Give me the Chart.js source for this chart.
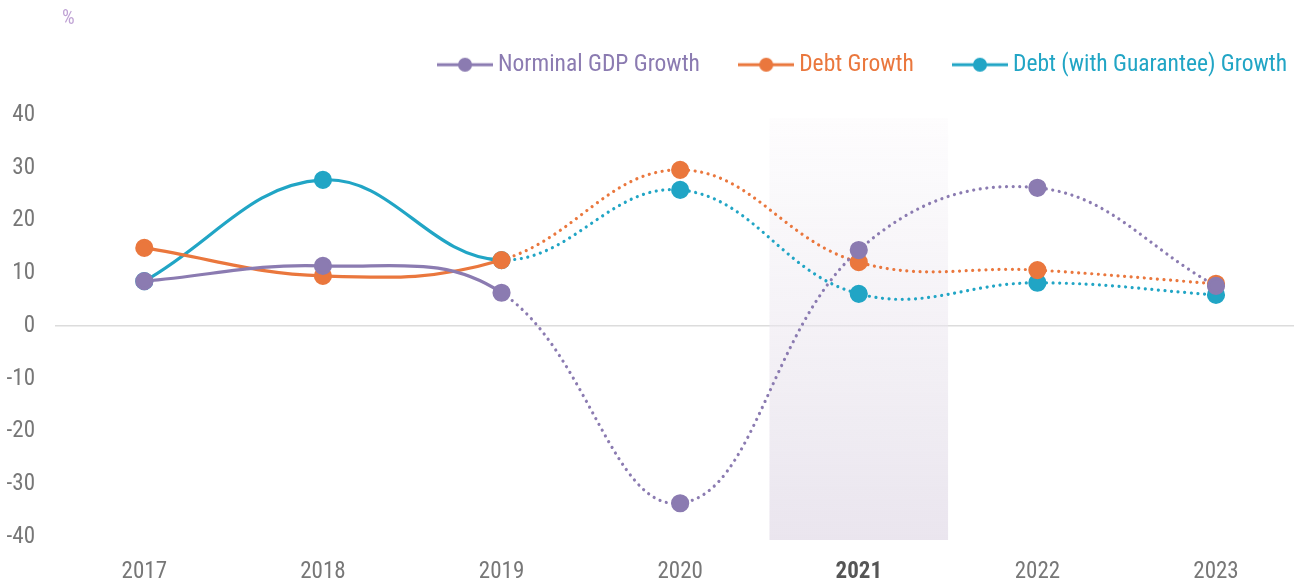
<!DOCTYPE html>
<html>
<head>
<meta charset="utf-8">
<script src="https://cdn.jsdelivr.net/npm/chart.js@4/dist/chart.umd.min.js"></script>
<style>
  html, body { margin: 0; padding: 0; background: #fff; }
  #wrap { position: relative; width: 1294px; height: 583px; overflow: hidden; }
  #chart { display: block; }
  #unit {
    position: absolute; left: 62px; top: 5px;
    font: 20px "Roboto Condensed", "Liberation Sans Narrow", Roboto, sans-serif;
    color: #bfa2d4;
  }
</style>
</head>
<body>
<div id="wrap">
  <div id="unit">%</div>
  <!-- plot runs off the right edge in the original, so the canvas is a bit wider than the view -->
  <canvas id="chart" width="1316" height="583"></canvas>
</div>
<script>
  // ---- Data ----
  const years = ["2017", "2018", "2019", "2020", "2021", "2022", "2023"];
  const gdpGrowth = [8.5, 11.4, 6.3, -33.6, 14.4, 26.2, 7.6];
  const debtGrowth = [14.8, 9.5, 12.5, 29.6, 12.1, 10.6, 8.0];
  const debtGuaranteeGrowth = [8.5, 27.7, 12.5, 25.8, 6.1, 8.2, 5.9];
  const yTicks = [-40, -30, -20, -10, 0, 10, 20, 30, 40];

  const FONT = '"Roboto Condensed", "Liberation Sans Narrow", "DejaVu Sans Condensed", Roboto, sans-serif';
  const HIGHLIGHT = 4; // index of 2021
  const LAST_ACTUAL = 2; // lines become dotted after 2019

  const colors = {
    gdp: "#8b7bb1",
    debt: "#ea773d",
    guar: "#21a5c5",
  };

  // legend icon: short line with a dot in the middle
  function legendIcon(color) {
    const c = document.createElement("canvas");
    c.width = 56; c.height = 16;
    const g = c.getContext("2d");
    g.strokeStyle = color;
    g.lineWidth = 3;
    g.beginPath(); g.moveTo(0, 8); g.lineTo(56, 8); g.stroke();
    g.fillStyle = color;
    g.beginPath(); g.arc(28, 8, 7, 0, Math.PI * 2); g.fill();
    return c;
  }

  function series(label, data, color) {
    return {
      label,
      data,
      borderColor: color,
      backgroundColor: color,
      pointBackgroundColor: color,
      pointBorderColor: color,
      pointRadius: 7.5,
      pointHoverRadius: 7.5,
      borderWidth: 3.2,
      tension: 0.4,
      segment: {
        borderDash: (ctx) => (ctx.p0DataIndex >= LAST_ACTUAL ? [0.01, 6.6] : undefined),
        borderCapStyle: (ctx) => (ctx.p0DataIndex >= LAST_ACTUAL ? "round" : "butt"),
      },
      _icon: legendIcon(color),
    };
  }

  // ---- Shaded band behind 2021 ----
  const bandPlugin = {
    id: "band",
    beforeDatasetsDraw(chart) {
      const { ctx, scales: { x, y } } = chart;
      const cx = x.getPixelForValue(HIGHLIGHT);
      const half = (x.getPixelForValue(1) - x.getPixelForValue(0)) / 2;
      const top = y.top + 3;
      const bottom = y.bottom + 3;
      const grad = ctx.createLinearGradient(0, top, 0, bottom);
      grad.addColorStop(0, "rgba(236,232,240,0.1)");
      grad.addColorStop(1, "rgba(234,229,238,1)");
      ctx.save();
      ctx.fillStyle = grad;
      ctx.fillRect(cx - half, top, half * 2, bottom - top);
      ctx.restore();
    },
  };

  // ---- Legend: fixed height, last item ending near the visible right edge ----
  const legendPlacePlugin = {
    id: "legendPlace",
    beforeInit(chart) {
      const fit = chart.legend.fit;
      chart.legend.fit = function () {
        fit.call(this);
        this.height = 107;
      };
    },
    beforeDraw(chart) {
      chart.legend.right = 1294 + 38;
    },
  };

  new Chart(document.getElementById("chart"), {
    type: "line",
    data: {
      labels: years,
      datasets: [
        series("Norminal GDP Growth", gdpGrowth, colors.gdp),
        series("Debt Growth", debtGrowth, colors.debt),
        series("Debt (with Guarantee) Growth", debtGuaranteeGrowth, colors.guar),
      ],
    },
    options: {
      responsive: false,
      animation: false,
      layout: { padding: { top: 8, right: 0, bottom: 0, left: 0 } },
      plugins: {
        tooltip: { enabled: false },
        legend: {
          position: "top",
          align: "end",
          labels: {
            usePointStyle: true,
            pointStyleWidth: 42.5,
            padding: 45,
            font: { family: FONT, size: 23.5 },
            generateLabels(chart) {
              return chart.data.datasets.map((ds, i) => ({
                text: ds.label,
                fontColor: ds.borderColor,
                pointStyle: ds._icon,
                datasetIndex: i,
                hidden: false,
                lineWidth: 0,
              }));
            },
          },
        },
      },
      scales: {
        x: {
          offset: true,
          grid: { display: false, drawTicks: false },
          border: { display: false },
          afterFit(axis) {
            axis.height = 46;
            axis.paddingLeft = 0;
            axis.paddingRight = 0;
          },
          ticks: {
            padding: 21,
            font: (ctx) => ({
              family: FONT,
              size: 23,
              weight: ctx.index === HIGHLIGHT ? "bold" : "normal",
            }),
            color: (ctx) => (ctx.index === HIGHLIGHT ? "#555" : "#777"),
          },
        },
        y: {
          min: -40,
          max: 40,
          afterBuildTicks(axis) {
            axis.ticks = yTicks.map((v) => ({ value: v }));
          },
          afterFit(axis) {
            axis.width = 55;
          },
          grid: {
            drawTicks: false,
            color: (ctx) => (ctx.tick && ctx.tick.value === 0 ? "#dcdcdc" : "rgba(0,0,0,0)"),
            lineWidth: 1.5,
          },
          border: { display: false },
          ticks: {
            padding: 20,
            color: "#777",
            font: { family: FONT, size: 23 },
          },
        },
      },
    },
    plugins: [bandPlugin, legendPlacePlugin],
  });
</script>
</body>
</html>
